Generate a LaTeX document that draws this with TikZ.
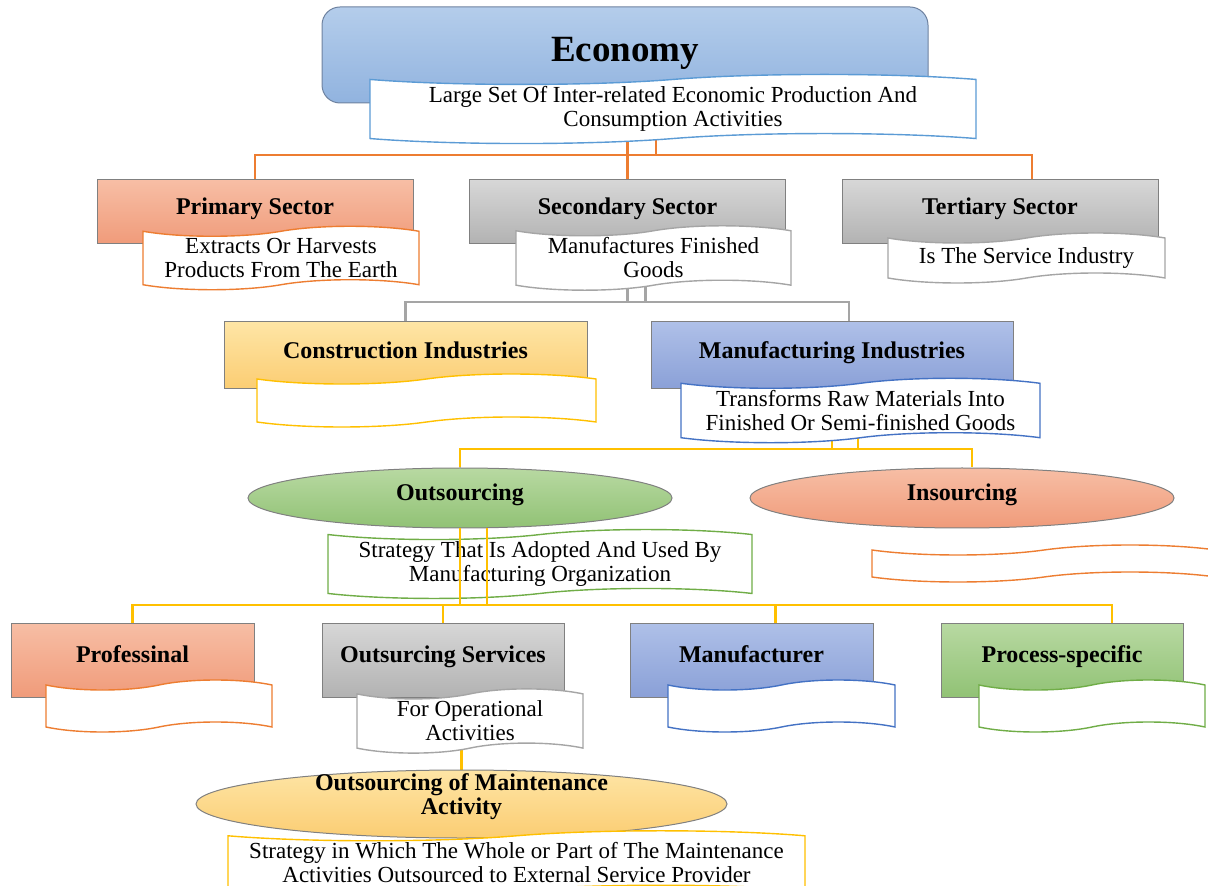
\documentclass[tikz,border=0pt]{standalone}
\usepackage{fontspec}
\setmainfont{Liberation Serif}
\usetikzlibrary{shapes.geometric,shapes.symbols,backgrounds}
\definecolor{vcam}{RGB}{237,125,49}
\definecolor{vxam}{RGB}{165,165,165}
\definecolor{vvang}{RGB}{255,192,0}
\definecolor{vlam}{RGB}{68,114,196}
\definecolor{vluc}{RGB}{112,173,71}
\definecolor{vlamnhat}{RGB}{91,155,213}
\begin{document}
\begin{tikzpicture}[x=0.5pt,y=-0.5pt,
	khung/.style={rectangle,draw=black!50,line width=0.5pt,minimum width=158pt,minimum height=32pt,text depth=5.5pt,font=\fontsize{12}{12}\selectfont\bfseries},
	giay/.style={tape,draw=#1,line width=0.7pt,fill=white,tape bend height=5pt,inner sep=1pt,align=center,font=\fontsize{11.5}{12}\selectfont},
	bau/.style={ellipse,draw=black!50,line width=0.5pt,inner sep=0pt,minimum width=212pt,minimum height=30pt,text depth=5.5pt,align=center,font=\fontsize{12}{12}\selectfont\bfseries},
	hong/.style={top color={rgb,255:red,247;green,190;blue,165},bottom color={rgb,255:red,240;green,155;blue,122}},
	xamnen/.style={top color={rgb,255:red,215;green,215;blue,215},bottom color={rgb,255:red,178;green,178;blue,178}},
	vangnen/.style={top color={rgb,255:red,254;green,229;blue,165},bottom color={rgb,255:red,251;green,205;blue,115}},
	lamnen/.style={top color={rgb,255:red,175;green,192;blue,232},bottom color={rgb,255:red,138;green,160;blue,215}},
	lucnen/.style={top color={rgb,255:red,184;green,217;blue,162},bottom color={rgb,255:red,145;green,194;blue,117}},
	noi/.style={draw=#1,line width=1.4pt}]
	\useasboundingbox (0,0) rectangle (1208,886);
	% hang 1
	\node[khung,rounded corners=9pt,draw={rgb,255:red,110;green,130;blue,160},minimum width=303pt,minimum height=48pt,top color={rgb,255:red,180;green,205;blue,235},bottom color={rgb,255:red,145;green,179;blue,223},font=\fontsize{18.5}{18.5}\selectfont\bfseries] (eco) at (625,55) {Economy};
	\node[giay=vlamnhat,minimum width=303pt,minimum height=26pt] (ecodesc) at (673,109) {Large Set Of Inter-related Economic Production And\\Consumption Activities};
	% hang 2
	\node[khung,hong] (pri) at (255,212) {Primary Sector};
	\node[giay=vcam,minimum width=138pt,minimum height=25pt] (pridesc) at (281,258) {Extracts Or Harvests\\Products From The Earth};
	\node[khung,xamnen] (sec) at (627.5,212) {Secondary Sector};
	\node[giay=vxam,minimum width=137.5pt,minimum height=25pt] (secdesc) at (653.5,258) {Manufactures Finished\\Goods};
	\node[khung,xamnen] (ter) at (1000,212) {Tertiary Sector};
	\node[giay=vxam,minimum width=138.5pt,minimum height=25pt] (terdesc) at (1026.5,258) {Is The Service Industry};
	% hang 3
	\node[khung,vangnen,minimum width=181.5pt,minimum height=33.5pt] (con) at (405.5,355.5) {Construction Industries};
	\node[giay=vvang,minimum width=169.5pt,minimum height=26.5pt] (condesc) at (426.5,400.5) {};
	\node[khung,lamnen,minimum width=181pt,minimum height=33.5pt] (man) at (832,355.5) {Manufacturing Industries};
	\node[giay=vlam,minimum width=179.5pt,minimum height=27.5pt] (mandesc) at (860.5,410.5) {Transforms Raw Materials Into\\Finished Or Semi-finished Goods};
	% hang 4
	\node[bau,lucnen] (out) at (460,498) {Outsourcing};
	\node[bau,hong] (ins) at (962,498) {Insourcing};
	\node[giay=vluc,minimum width=212pt,minimum height=24pt] (outdesc) at (540,564) {Strategy That Is Adopted And Used By\\Manufacturing Organization};
	\node[giay=vcam,minimum width=172pt,minimum height=18.5pt] (insdesc) at (1044,563.5) {};
	% hang 5
	\node[khung,hong,minimum width=121.5pt,minimum height=37pt] (pro) at (132.5,660) {Professinal};
	\node[giay=vcam,minimum width=113pt,minimum height=26pt] (prodesc) at (159,706) {};
	\node[khung,xamnen,minimum width=121pt,minimum height=37pt] (ser) at (443,660) {Outsurcing Services};
	\node[giay=vxam,minimum width=113pt,minimum height=25pt] (serdesc) at (470,721) {For Operational\\Activities};
	\node[khung,lamnen,minimum width=121.5pt,minimum height=37pt] (mfr) at (751.5,660) {Manufacturer};
	\node[giay=vlam,minimum width=113.5pt,minimum height=26pt] (mfrdesc) at (781.5,706) {};
	\node[khung,lucnen,minimum width=121pt,minimum height=37pt] (ps) at (1062,660) {Process-specific};
	\node[giay=vluc,minimum width=113pt,minimum height=26pt] (psdesc) at (1092,706) {};
	% hang 6
	\node[bau,vangnen,minimum width=265.5pt,minimum height=34pt,text depth=9.5pt,inner ysep=-6pt] (mai) at (461.5,804) {Outsourcing of Maintenance\\Activity};
	\node[giay=vvang,minimum width=288.5pt,minimum height=24pt] (maidesc) at (516.5,863) {Strategy in Which The Whole or Part of The Maintenance\\Activities Outsourced to External Service Provider};
	% duong noi
	\begin{scope}[on background layer]
		\coordinate (r1) at (0,155);
		\coordinate (r2) at (0,302);
		\coordinate (r3) at (0,449);
		\coordinate (c1) at ([xshift=16pt]ter.north);
		\coordinate (c2) at ([xshift=8.5pt]man.north);
		\coordinate (c3) at ([xshift=5pt]ins.north);
		\draw[noi=vcam] (pri.north) |- (r1 -| c1) -- (c1);
		\draw[noi=vcam] (sec.north) -- (sec.north |- eco.south);
		\draw[noi=vcam] ([xshift=14.25pt]sec.north |- ecodesc.south) -- ([xshift=14.25pt]sec.north |- r1);
		\draw[noi=vxam] (con.north) |- (r2 -| c2) -- (c2);
		\draw[noi=vxam] (sec.south) -- (sec.south |- r2);
		\draw[noi=vxam] ([xshift=9pt]sec.south) -- ([xshift=9pt]sec.south |- r2);
		\draw[noi=vvang] (out.north) |- (r3 -| c3) -- (c3);
		\draw[noi=vvang] (man.south) -- (man.south |- r3);
		\draw[noi=vvang] ([xshift=13pt]man.south) -- ([xshift=13pt]man.south |- r3);
		\draw[noi=vvang] (mai.north) -- (mai.north |- serdesc.south);
	\end{scope}
	\coordinate (r4) at (0,605);
	\coordinate (c4) at ([xshift=12pt]mfr.north);
	\coordinate (c5) at ([xshift=25pt]ps.north);
	\draw[noi=vvang] (pro.north) |- (r4 -| c5) -- (c5);
	\draw[noi=vvang] (ser.north) -- (ser.north |- r4);
	\draw[noi=vvang] (c4) -- (c4 |- r4);
	\draw[noi=vvang] (out.south) -- (out.south |- r4);
	\draw[noi=vvang] ([xshift=13.5pt]out.south) -- ([xshift=13.5pt]out.south |- r4);
\end{tikzpicture}
\end{document}
